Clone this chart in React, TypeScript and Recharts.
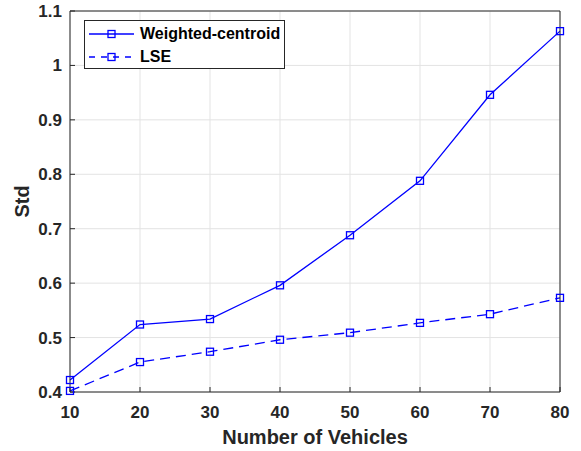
import { LineChart, Line, XAxis, YAxis, CartesianGrid, Legend } from "recharts";

const vehicles = [10, 20, 30, 40, 50, 60, 70, 80];
const weightedCentroid = [0.422, 0.524, 0.534, 0.596, 0.688, 0.788, 0.946, 1.063];
const lse = [0.402, 0.455, 0.474, 0.496, 0.509, 0.527, 0.543, 0.573];
const xTicks = [10, 20, 30, 40, 50, 60, 70, 80];
const yTicks = [0.4, 0.5, 0.6, 0.7, 0.8, 0.9, 1.0, 1.1];

const data = vehicles.map((v, i) => ({ n: v, wc: weightedCentroid[i], lse: lse[i] }));

const FONT = "'Liberation Sans', Arial, Helvetica, sans-serif";
const BLUE = "#0000ff";
const INK = "#262626";

const SquareDot = (props: any) => {
  const { cx, cy } = props;
  if (cx == null || cy == null) return null;
  return <rect x={cx - 3.5} y={cy - 3.5} width={7} height={7} fill="none" stroke={BLUE} strokeWidth={1.3} />;
};

const LegendBox = () => {
  const rows = [
    { name: "Weighted-centroid", dash: undefined },
    { name: "LSE", dash: "6 6" },
  ];
  return (
    <div
      style={{
        border: `1px solid ${INK}`,
        background: "#fff",
        width: 199,
        height: 46,
        boxSizing: "content-box",
        fontFamily: FONT,
        fontWeight: "bold",
        fontSize: 16,
        color: "#000",
        paddingTop: 1,
      }}
    >
      {rows.map((r) => (
        <div key={r.name} style={{ display: "flex", alignItems: "center", height: 23 }}>
          <svg width={52} height={14} style={{ marginLeft: 3 }}>
            <line x1={1} y1={7} x2={46} y2={7} stroke={BLUE} strokeWidth={1.3} strokeDasharray={r.dash} />
            <rect x={20} y={3.5} width={7} height={7} fill="none" stroke={BLUE} strokeWidth={1.3} />
          </svg>
          <span>{r.name}</span>
        </div>
      ))}
    </div>
  );
};

const fmtY = (v: number) => String(Number(v.toFixed(1)));

export default function App() {
  return (
    <div style={{ position: "absolute", left: 0, top: 0, background: "#fff" }}>
      <LineChart width={581} height={451} data={data} margin={{ top: 10, right: 20, left: 0, bottom: 0 }}>
        <CartesianGrid xAxisId="bottom" yAxisId="left" stroke="#e3e3e3" strokeWidth={1} />
        <XAxis
          xAxisId="bottom"
          dataKey="n"
          type="number"
          domain={[10, 80]}
          ticks={xTicks}
          height={59}
          stroke={INK}
          tickSize={-5}
          tickMargin={19}
          tick={{ fill: INK, fontSize: 17, fontWeight: "bold", fontFamily: FONT }}
          label={(p: any) => {
            const vb = p.viewBox;
            return (
              <text
                x={vb.x + vb.width / 2}
                y={vb.y + 45}
                textAnchor="middle"
                dominantBaseline="central"
                fill={INK}
                fontSize={20}
                fontWeight="bold"
                fontFamily={FONT}
              >
                Number of Vehicles
              </text>
            );
          }}
        />
        <XAxis
          xAxisId="top"
          orientation="top"
          dataKey="n"
          type="number"
          domain={[10, 80]}
          ticks={xTicks}
          height={1}
          stroke={INK}
          tickSize={-5}
          tick={false}
        />
        <YAxis
          yAxisId="left"
          type="number"
          domain={[0.4, 1.1]}
          ticks={yTicks}
          width={70}
          stroke={INK}
          tickSize={-5}
          tickMargin={13}
          tickFormatter={fmtY}
          tick={{ fill: INK, fontSize: 17, fontWeight: "bold", fontFamily: FONT }}
          label={(p: any) => {
            const vb = p.viewBox;
            const cx = vb.x + 22;
            const cy = vb.y + vb.height / 2;
            return (
              <text
                x={cx}
                y={cy}
                transform={`rotate(-90 ${cx} ${cy})`}
                textAnchor="middle"
                dominantBaseline="central"
                fill={INK}
                fontSize={20}
                fontWeight="bold"
                fontFamily={FONT}
              >
                Std
              </text>
            );
          }}
        />
        <YAxis
          yAxisId="right"
          orientation="right"
          type="number"
          domain={[0.4, 1.1]}
          ticks={yTicks}
          width={1}
          stroke={INK}
          tickSize={-5}
          tick={false}
        />
        <Legend
          layout="vertical"
          align="center"
          verticalAlign="middle"
          wrapperStyle={{ left: 84, top: 20, width: "auto" }}
          content={() => <LegendBox />}
        />
        <Line
          xAxisId="bottom"
          yAxisId="left"
          type="linear"
          dataKey="wc"
          name="Weighted-centroid"
          stroke={BLUE}
          strokeWidth={1.3}
          dot={<SquareDot />}
          activeDot={false}
          isAnimationActive={false}
        />
        <Line
          xAxisId="bottom"
          yAxisId="left"
          type="linear"
          dataKey="lse"
          name="LSE"
          stroke={BLUE}
          strokeWidth={1.3}
          strokeDasharray="10 6"
          dot={<SquareDot />}
          activeDot={false}
          isAnimationActive={false}
        />
      </LineChart>
    </div>
  );
}
